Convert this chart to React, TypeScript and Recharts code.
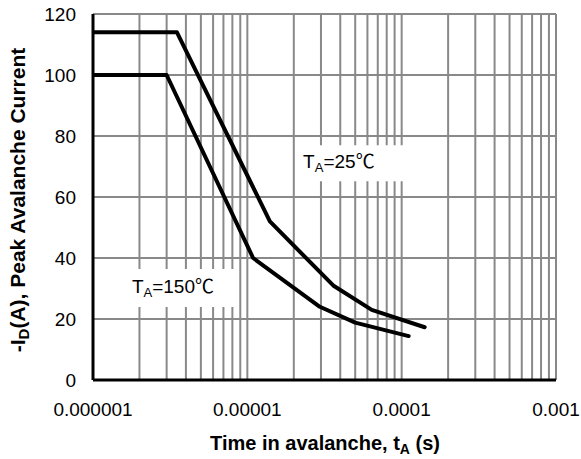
import { LineChart, Line, XAxis, YAxis, CartesianGrid, ReferenceArea, ReferenceLine, Label } from 'recharts'

// avalanche curves
const time25 = [1e-6, 3.5e-6, 1.4e-5, 3.6e-5, 6.4e-5, 1.41e-4]
const current25 = [114, 114, 52, 31, 23, 17.3]
const time150 = [1e-6, 3e-6, 1.09e-5, 2.95e-5, 5e-5, 1.11e-4]
const current150 = [100, 100, 40, 24, 18.8, 14.4]

const xTicks = [1e-6, 1e-5, 1e-4, 1e-3]
const xTickLabels = ['0.000001', '0.00001', '0.0001', '0.001']
const yTicks = [0, 20, 40, 60, 80, 100, 120]
const decadeSteps = [1, 2, 3, 4, 5, 6, 7, 8, 9]

const series25 = time25.map((t, i) => ({ t, i: current25[i] }))
const series150 = time150.map((t, i) => ({ t, i: current150[i] }))
const gridX = xTicks
  .slice(0, 3)
  .flatMap((d) => decadeSteps.map((m) => m * d))
  .slice(1)
  .concat([1e-3])

const FONT = '"Liberation Sans", Arial, "Noto Sans CJK SC", sans-serif'
const CJK = '"Noto Sans CJK SC", sans-serif'

const XTick = (props: any) => {
  const { x, y, payload } = props
  const idx = xTicks.findIndex((v) => Math.abs(v - payload.value) / v < 1e-6)
  return (
    <text x={x} y={y + 36} textAnchor="middle" fontFamily={FONT} fontSize={19} fill="#000">
      {xTickLabels[idx]}
    </text>
  )
}

const YTick = (props: any) => {
  const { x, y, payload } = props
  return (
    <text x={x - 17} y={y} dy="0.35em" textAnchor="end" fontFamily={FONT} fontSize={19} fill="#000">
      {payload.value}
    </text>
  )
}

const tempLabel = (temp: string) => (props: any) => {
  const vb = props.viewBox
  return (
    <text x={vb.x + 7} y={vb.y + vb.height / 2 + 5} fontFamily={FONT} fontSize={19} fill="#000">
      T
      <tspan fontSize={13} dy={4}>A</tspan>
      <tspan dy={-4}>={temp}</tspan>
      <tspan fontFamily={CJK}>℃</tspan>
    </text>
  )
}

export default function App() {
  return (
    <div style={{ position: 'absolute', left: 0, top: 0, background: '#fff' }}>
      <LineChart width={581} height={459} margin={{ top: 14, right: 25, bottom: 0, left: 0 }}>
        <CartesianGrid stroke="#898989" strokeWidth={2} vertical={false} />
        {gridX.map((v) => (
          <ReferenceLine key={v} x={v} stroke="#898989" strokeWidth={2} zIndex={-50} />
        ))}
        <XAxis
          dataKey="t"
          type="number"
          scale="log"
          domain={[1e-6, 1e-3]}
          ticks={xTicks}
          allowDataOverflow
          height={79}
          tickLine={false}
          tickSize={0}
          tickMargin={0}
          axisLine={{ stroke: '#000', strokeWidth: 3 }}
          tick={<XTick />}
        >
          <Label
            content={() => (
              <text x={325} y={450} textAnchor="middle" fontFamily={FONT} fontSize={20} fontWeight="bold" fill="#000">
                Time in avalanche, t
                <tspan fontSize={14} dy={4}>A</tspan>
                <tspan dy={-4}> (s)</tspan>
              </text>
            )}
          />
        </XAxis>
        <YAxis
          type="number"
          domain={[0, 120]}
          ticks={yTicks}
          allowDataOverflow
          width={93}
          tickLine={false}
          tickSize={0}
          tickMargin={0}
          axisLine={{ stroke: '#000', strokeWidth: 3 }}
          tick={<YTick />}
        >
          <Label
            content={() => (
              <text
                x={25}
                y={200}
                transform="rotate(-90, 25, 200)"
                textAnchor="middle"
                fontFamily={FONT}
                fontSize={21}
                fontWeight="bold"
                fill="#000"
              >
                -I
                <tspan fontSize={15} dy={4}>D</tspan>
                <tspan dy={-4}>(A), Peak Avalanche Current</tspan>
              </text>
            )}
          />
        </YAxis>
        <ReferenceArea
          x1={2.07e-5}
          x2={1.035e-4}
          y1={65.2}
          y2={77}
          fill="#fff"
          fillOpacity={1}
          stroke="none"
          zIndex={50}
          label={tempLabel('25')}
        />
        <ReferenceArea
          x1={1.61e-6}
          x2={8.45e-6}
          y1={23.9}
          y2={36.4}
          fill="#fff"
          fillOpacity={1}
          stroke="none"
          zIndex={50}
          label={tempLabel('150')}
        />
        <Line
          data={series25}
          dataKey="i"
          type="linear"
          stroke="#000"
          strokeWidth={4}
          strokeLinecap="round"
          strokeLinejoin="round"
          dot={false}
          isAnimationActive={false}
        />
        <Line
          data={series150}
          dataKey="i"
          type="linear"
          stroke="#000"
          strokeWidth={4}
          strokeLinecap="round"
          strokeLinejoin="round"
          dot={false}
          isAnimationActive={false}
        />
      </LineChart>
    </div>
  )
}
